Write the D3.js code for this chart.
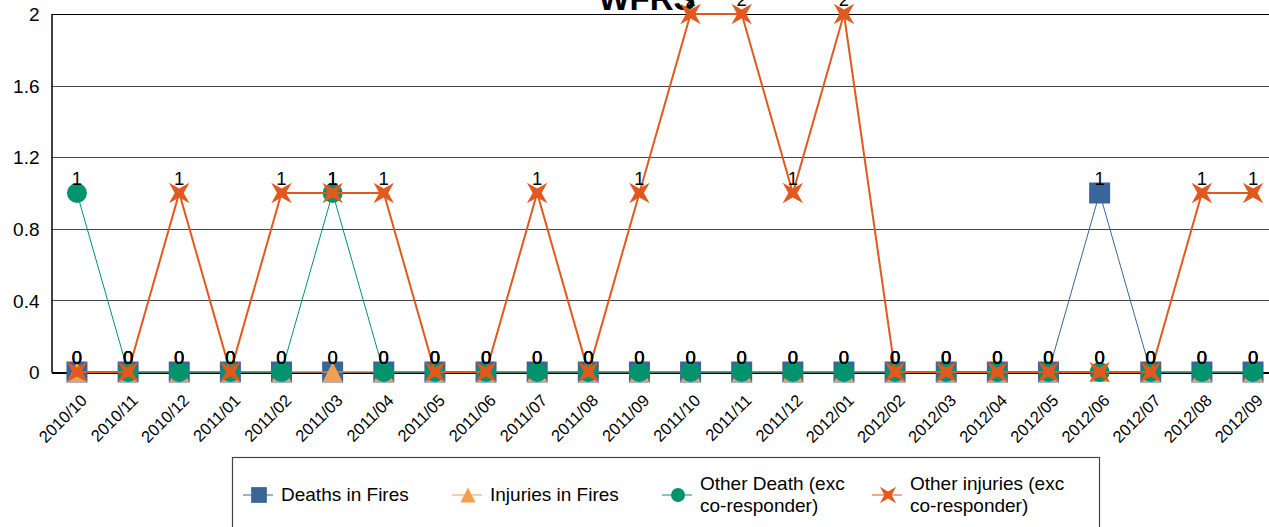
<!DOCTYPE html>
<html>
<head>
<meta charset="utf-8">
<script src="https://cdn.jsdelivr.net/npm/d3@7"></script>
<style>
	html, body { margin: 0; padding: 0; background: white; }
	#outer { width: 1269px; height: 527px; overflow: hidden; }
	text { font-family: 'Liberation Sans', Arial, sans-serif; fill: black; }
</style>
</head>
<body>
<div id="outer"></div>
<script>
////////// DATA //////////
const months = ['2010/10', '2010/11', '2010/12', '2011/01', '2011/02', '2011/03', '2011/04', '2011/05',
	'2011/06', '2011/07', '2011/08', '2011/09', '2011/10', '2011/11', '2011/12', '2012/01',
	'2012/02', '2012/03', '2012/04', '2012/05', '2012/06', '2012/07', '2012/08', '2012/09'];
const deathsInFires = [0, 0, 0, 0, 0, 0, 0, 0, 0, 0, 0, 0, 0, 0, 0, 0, 0, 0, 0, 0, 1, 0, 0, 0];
const injuriesInFires = [0, 0, 0, 0, 0, 0, 0, 0, 0, 0, 0, 0, 0, 0, 0, 0, 0, 0, 0, 0, 0, 0, 0, 0];
const otherDeath = [1, 0, 0, 0, 0, 1, 0, 0, 0, 0, 0, 0, 0, 0, 0, 0, 0, 0, 0, 0, 0, 0, 0, 0];
const otherInjuries = [0, 0, 1, 0, 1, 1, 1, 0, 0, 1, 0, 1, 2, 2, 1, 2, 0, 0, 0, 0, 0, 0, 1, 1];
const yTicks = [0, 0.4, 0.8, 1.2, 1.6, 2];
const seriesNames = ['Deaths in Fires', 'Injuries in Fires', 'Other Death (exc co-responder)', 'Other injuries (exc co-responder)'];
const titleText = 'WFRS';

function drawChart () {
	const widget = {};

	////////// Hard Coded Defs //////////
	const width = 1269, height = 527;
	const margin = {top: 14, left: 51.4};
	const plotRight = 1278.6;
	const plotBottom = 372;

	const series = [
		{name: seriesNames[0], values: deathsInFires, color: '#3a6599', lineWidth: 1, marker: 'square', legendScale: 0.75},
		{name: seriesNames[1], values: injuriesInFires, color: '#f0a04e', lineWidth: 1, marker: 'triangle', legendScale: 0.75},
		{name: seriesNames[2], values: otherDeath, color: '#00936d', lineWidth: 1, marker: 'circle', legendScale: 0.7},
		{name: seriesNames[3], values: otherInjuries, color: '#e2591f', lineWidth: 2, marker: 'star', legendScale: 0.8}
	];

	// marker path builders (centred at 0,0)
	const markerPath = type => {
		if (type === 'square') return 'M-10.5,-10.5H10.5V10.5H-10.5Z';
		if (type === 'triangle') return 'M0,-10L10,10H-10Z';
		if (type === 'circle') return d3.symbol(d3.symbolCircle, Math.PI * 10 * 10)();
		// four pointed star, tips on the diagonals
		const pts = [];
		for (let i = 0; i < 8; i++) {
			const a = -Math.PI / 4 + i * Math.PI / 4;
			const r = i % 2 === 0 ? 14.5 : 4.5;
			pts.push([r * Math.cos(a), r * Math.sin(a)]);
		}
		return d3.line().curve(d3.curveLinearClosed)(pts);
	};

	////////// Scales //////////
	const x = d3.scaleBand().domain(months).range([margin.left, plotRight]);
	const y = d3.scaleLinear().domain([0, 2]).range([plotBottom, margin.top]);
	const cx = m => x(m) + x.bandwidth() / 2;

	////////// SVG //////////
	widget.outerDiv = d3.select('#outer');
	widget.svg = widget.outerDiv.append('svg')
		.attr('width', width)
		.attr('height', height);

	const svg = widget.svg;

	// gridlines
	svg.append('g')
		.attr('class', 'grid')
		.selectAll('line')
		.data(yTicks.filter(d => d > 0))
		.join('line')
		.attr('x1', margin.left)
		.attr('x2', plotRight)
		.attr('y1', d => Math.round(y(d)) + 0.5)
		.attr('y2', d => Math.round(y(d)) + 0.5)
		.attr('stroke', d => d === 2 ? '#000' : '#444')
		.attr('stroke-width', 1);

	// y axis
	const yAxis = svg.append('g')
		.attr('transform', `translate(${Math.round(margin.left) + 0.5},0)`)
		.call(d3.axisLeft(y).tickValues(yTicks).tickSize(0).tickPadding(12).tickFormat(d => String(+d.toFixed(1))));
	yAxis.select('.domain').attr('stroke', '#000').attr('stroke-width', 1.5);
	yAxis.selectAll('text')
		.style('font-family', "'Liberation Sans', Arial, sans-serif")
		.style('font-size', '19px')
		.attr('dy', '0.35em');

	// x axis
	const xAxis = svg.append('g')
		.attr('transform', `translate(0,${y(0) + 0.5})`)
		.call(d3.axisBottom(x).tickSize(0).tickPadding(0));
	xAxis.select('.domain').attr('stroke', '#000').attr('stroke-width', 2);
	xAxis.selectAll('text')
		.style('font-family', "'Liberation Sans', Arial, sans-serif")
		.style('font-size', '16.5px')
		.attr('text-anchor', 'end')
		.attr('dy', '0')
		.attr('y', 0)
		.attr('transform', 'translate(11,29) rotate(-45)');

	// title
	svg.append('text')
		.attr('x', 647)
		.attr('y', 10)
		.attr('text-anchor', 'middle')
		.style('font-size', '33px')
		.style('font-weight', 'bold')
		.text(titleText);

	////////// SERIES //////////
	const lineGen = d3.line()
		.x((d, i) => cx(months[i]))
		.y(d => y(d));

	series.forEach(s => {
		const g = svg.append('g').attr('class', 'series');
		g.append('path')
			.datum(s.values)
			.attr('fill', 'none')
			.attr('stroke', s.color)
			.attr('stroke-width', s.lineWidth)
			.attr('d', lineGen);
		g.selectAll('path.marker')
			.data(s.values)
			.join('path')
			.attr('class', 'marker')
			.attr('transform', (d, i) => `translate(${cx(months[i])},${y(d)})`)
			.attr('fill', s.color)
			.attr('d', markerPath(s.marker));
	});

	// data labels
	series.forEach(s => {
		svg.append('g')
			.selectAll('text')
			.data(s.values)
			.join('text')
			.attr('x', (d, i) => cx(months[i]))
			.attr('y', d => y(d) - 8)
			.attr('text-anchor', 'middle')
			.style('font-size', '18.5px')
			.text(d => d);
	});

	////////// LEGEND //////////
	const legend = svg.append('g').attr('class', 'legend');
	legend.append('rect')
		.attr('x', 232.5)
		.attr('y', 457.5)
		.attr('width', 867)
		.attr('height', 100)
		.attr('fill', 'white')
		.attr('stroke', '#444')
		.attr('stroke-width', 1.2);

	const legendX = [243, 452, 662, 872];
	const legendY = 495;
	series.forEach((s, i) => {
		const item = legend.append('g').attr('transform', `translate(${legendX[i]},${legendY})`);
		item.append('line')
			.attr('x1', 0)
			.attr('x2', 30)
			.attr('stroke', s.color)
			.attr('stroke-width', 1);
		item.append('path')
			.attr('transform', `translate(16,0) scale(${s.legendScale})`)
			.attr('fill', s.color)
			.attr('d', markerPath(s.marker));
		const label = item.append('text')
			.attr('x', 38)
			.style('font-size', '19px');
		const parts = s.name.split(' co-');
		if (parts.length > 1) {
			label.append('tspan').attr('x', 38).attr('y', -5).text(parts[0]);
			label.append('tspan').attr('x', 38).attr('y', 17).text('co-' + parts[1]);
		} else {
			label.attr('y', 6).text(s.name);
		}
	});
}

drawChart();
</script>
</body>
</html>
